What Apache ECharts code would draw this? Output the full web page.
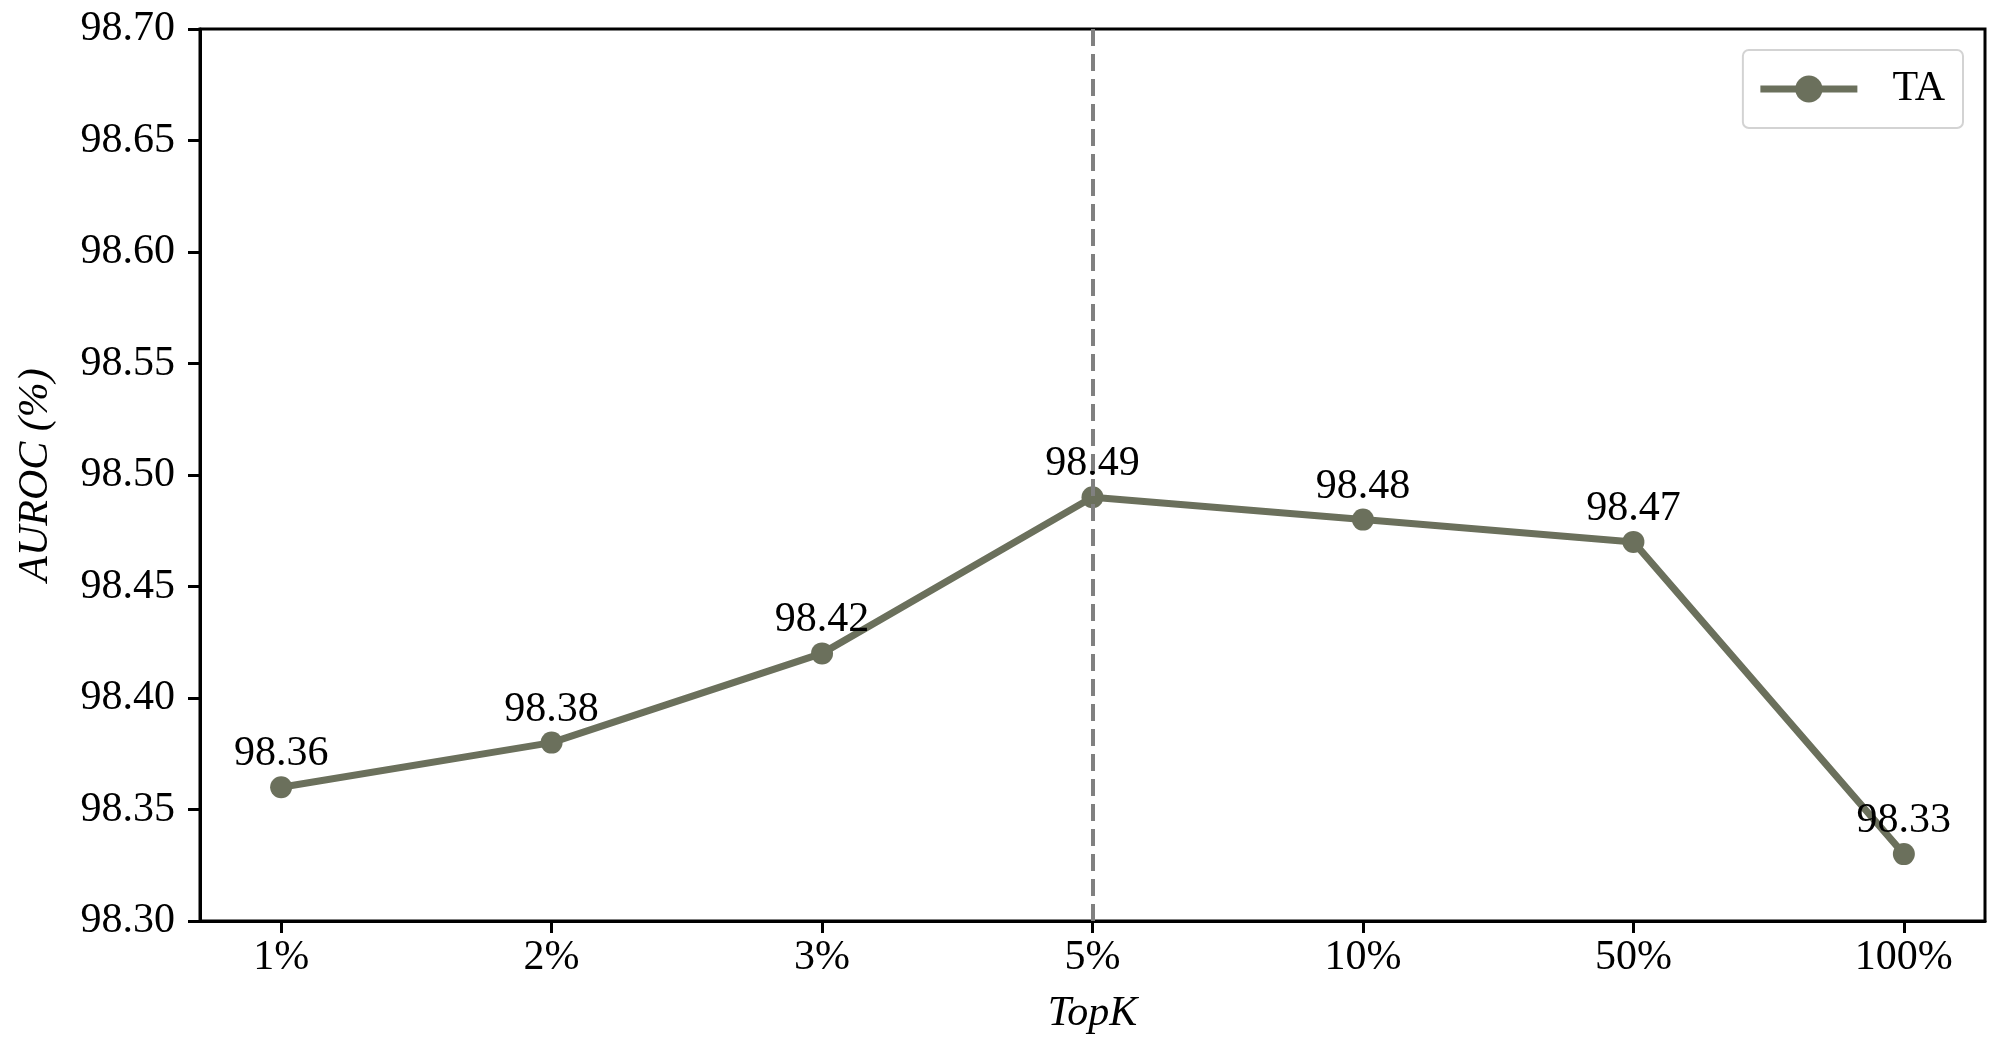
<!DOCTYPE html>
<html>
<head>
<meta charset="utf-8">
<script src="https://cdn.jsdelivr.net/npm/echarts@6/dist/echarts.min.js"></script>
<style>
html,body{margin:0;padding:0;background:#fff;}
#chart{width:2001px;height:1057px;}
</style>
</head>
<body>
<div id="chart"></div>
<script>
const categories = ['1%', '2%', '3%', '5%', '10%', '50%', '100%'];
const taValues = [98.36, 98.38, 98.42, 98.49, 98.48, 98.47, 98.33];
const yTicks = [98.30, 98.35, 98.40, 98.45, 98.50, 98.55, 98.60, 98.65, 98.70];
const highlightIndex = 3;

const FONT = "'Liberation Serif', 'Times New Roman', serif";
const COLOR = '#6b705c';
const tickIdx = categories.map((c, i) => i);

const chart = echarts.init(document.getElementById('chart'), null, {renderer: 'canvas'});
chart.setOption({
  backgroundColor: '#ffffff',
  animation: false,
  grid: {
    left: 200, top: 29, right: 16, bottom: 136,
    show: true, borderColor: '#000', borderWidth: 3, backgroundColor: 'transparent'
  },
  legend: {
    right: 38, top: 50,
    data: ['TA'],
    itemWidth: 97, itemHeight: 34,
    padding: [18, 18, 18, 14],
    borderColor: '#d3d3d3', borderWidth: 2, borderRadius: 6,
    lineStyle: {width: 7},
    textStyle: {fontFamily: FONT, fontSize: 42, color: '#000', padding: [0, 0, 0, 30]}
  },
  xAxis: {
    type: 'value',
    min: -0.3, max: 6.3,
    name: 'TopK',
    nameLocation: 'middle',
    nameGap: 72,
    nameTextStyle: {fontFamily: FONT, fontSize: 42, fontStyle: 'italic', color: '#000'},
    splitLine: {show: false},
    axisLine: {show: true, onZero: false, lineStyle: {color: '#000', width: 3}},
    axisTick: {show: true, customValues: tickIdx, length: 12, lineStyle: {color: '#000', width: 3}},
    axisLabel: {
      customValues: tickIdx,
      formatter: v => categories[Math.round(v)],
      fontFamily: FONT, fontSize: 42, color: '#000', margin: 16
    }
  },
  yAxis: {
    type: 'value',
    min: yTicks[0], max: yTicks[yTicks.length - 1], interval: 0.05,
    name: 'AUROC (%)',
    nameLocation: 'middle',
    nameGap: 143,
    nameTextStyle: {fontFamily: FONT, fontSize: 42, fontStyle: 'italic', color: '#000'},
    splitLine: {show: false},
    axisLine: {show: true, onZero: false, lineStyle: {color: '#000', width: 3}},
    axisTick: {show: true, length: 12, lineStyle: {color: '#000', width: 3}},
    axisLabel: {
      formatter: v => v.toFixed(2),
      fontFamily: FONT, fontSize: 42, color: '#000', margin: 25
    }
  },
  series: [{
    name: 'TA',
    type: 'line',
    data: taValues.map((v, i) => [i, v]),
    symbol: 'circle',
    symbolSize: 22,
    lineStyle: {color: COLOR, width: 7},
    itemStyle: {color: COLOR},
    label: {
      show: true, position: 'top', distance: 1,
      formatter: p => p.value[1].toFixed(2),
      fontFamily: FONT, fontSize: 42, color: '#000'
    },
    markLine: {
      silent: true,
      symbol: 'none',
      label: {show: false},
      lineStyle: {color: '#808080', width: 4, type: [17, 8]},
      data: [{xAxis: highlightIndex}]
    },
    z: 3
  }]
});
</script>
</body>
</html>
